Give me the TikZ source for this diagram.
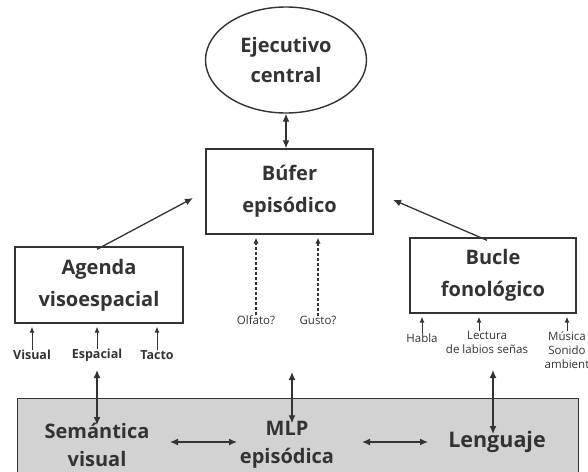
\documentclass[tikz,border=0pt]{standalone}
\usepackage{fontspec}
\setmainfont{Open Sans}
\usetikzlibrary{shapes.geometric,arrows.meta}
\definecolor{ink}{HTML}{333333}
\definecolor{boxgray}{HTML}{D2D2D2}
\begin{document}
\begin{tikzpicture}[x=1pt,y=-1pt,
  every node/.style={text=ink},
  mainbox/.style={draw=ink,line width=1.4pt,fill=white,inner sep=0pt,align=center,
    font=\bfseries\fontsize{20}{32}\selectfont},
  maintext/.style={align=center,inner sep=0pt,font=\bfseries\fontsize{20}{28}\selectfont},
  sublab/.style={inner sep=0pt,font=\bfseries\fontsize{12.5}{14}\selectfont},
  thinlab/.style={inner sep=0pt,align=center,font=\fontsize{11.5}{14}\selectfont},
  arr/.style={draw=ink,line width=1.3pt,-{Latex[length=8pt,width=7pt]}},
  darr/.style={draw=ink,line width=1.3pt,{Latex[length=8pt,width=7pt]}-{Latex[length=8pt,width=7pt]}},
  smallarr/.style={draw=ink,line width=1pt,-{Latex[length=6pt,width=5pt]}},
  dasharr/.style={draw=ink,line width=1.1pt,dash pattern=on 3pt off 2pt,-{Latex[length=6pt,width=5.5pt]}}]
\useasboundingbox (0,0) rectangle (588,471);

% gray MLP box
\node[draw=ink,line width=1.4pt,fill=boxgray,minimum width=561pt,minimum height=90pt,inner sep=0pt,anchor=north west] (mlpbox) at (17,398) {};

% main components
\node[mainbox,ellipse,minimum width=161pt,minimum height=106pt,font=\bfseries\fontsize{20}{30}\selectfont] (ec) at (286,60) {Ejecutivo\\central};
\node[mainbox,minimum width=167pt,minimum height=85pt] (buf) at (289.5,191.5) {Búfer\\episódico};
\node[mainbox,minimum width=168pt,minimum height=76pt] (ag) at (99,285) {Agenda\\visoespacial};
\node[mainbox,minimum width=166pt,minimum height=75pt] (bu) at (493,275.5) {Bucle\\fonológico};

% texts in the gray box
\node[maintext] (sem) at (97,445) {Semántica\\visual};
\node[maintext] (mlp) at (287,445) {MLP\\episódica};
\node[maintext,font=\bfseries\fontsize{21.5}{28}\selectfont] (len) at (497,442) {Lenguaje};

% connectors between main components
\draw[darr] (ec.south) -- (ec.south|-buf.north);
\draw[arr,shorten >=14pt] ([xshift=-2pt,yshift=-3pt]ag.north) -- (buf.west);
\draw[arr,shorten >=21pt] ([xshift=-6pt,yshift=-3pt]bu.north) -- (buf.east);

% agenda sub-labels
\node[sublab] (vis) at (32,355) {Visual};
\node[sublab] (esp) at (97,355) {Espacial};
\node[sublab] (tac) at (157,355) {Tacto};
\draw[smallarr,shorten >=3pt] (vis.north) -- (vis.north|-ag.south);
\draw[smallarr,shorten >=3pt] (esp.north) -- (esp.north|-ag.south);
\draw[smallarr,shorten >=3pt] (tac.north) -- (tac.north|-ag.south);

% bucle sub-labels
\node[thinlab] (hab) at (422,338) {Habla};
\node[thinlab,anchor=north] (lec) at (487,331) {Lectura\\de labios señas};
\node[thinlab,anchor=north] (mus) at (567,331) {Música\\Sonido\\ambient};
\draw[smallarr,shorten >=3pt] (hab.north) -- (hab.north|-bu.south);
\draw[smallarr,shorten >=3pt] ([xshift=-8pt]lec.north) -- ([xshift=-8pt]lec.north|-bu.south);
\draw[smallarr,shorten >=3pt] (mus.north) -- (mus.north|-bu.south);

% dashed inputs to buffer
\node[thinlab] (olf) at (256,320) {Olfato?};
\node[thinlab] (gus) at (318,320) {Gusto?};
\draw[dasharr,shorten >=3pt] (olf.north) -- (olf.north|-buf.south);
\draw[dasharr,shorten >=3pt] (gus.north) -- (gus.north|-buf.south);

% links to the MLP box
\coordinate (espl) at (97,370);
\coordinate (mlpl) at (292,372);
\coordinate (lenl) at (493,370);
\draw[darr] (espl) -- ([yshift=-2pt]espl|-sem.north);
\draw[darr] (mlpl) -- ([yshift=-2pt]mlpl|-mlp.north);
\draw[darr] (lenl) -- ([yshift=-3pt]lenl|-len.north);

% horizontal arrows inside the gray box
\coordinate (h1) at (170,442);
\coordinate (h2) at (237,442);
\coordinate (h3) at (362,442);
\coordinate (h4) at (428,442);
\draw[darr] (h1) -- (h2);
\draw[darr] (h3) -- (h4);
\end{tikzpicture}
\end{document}
